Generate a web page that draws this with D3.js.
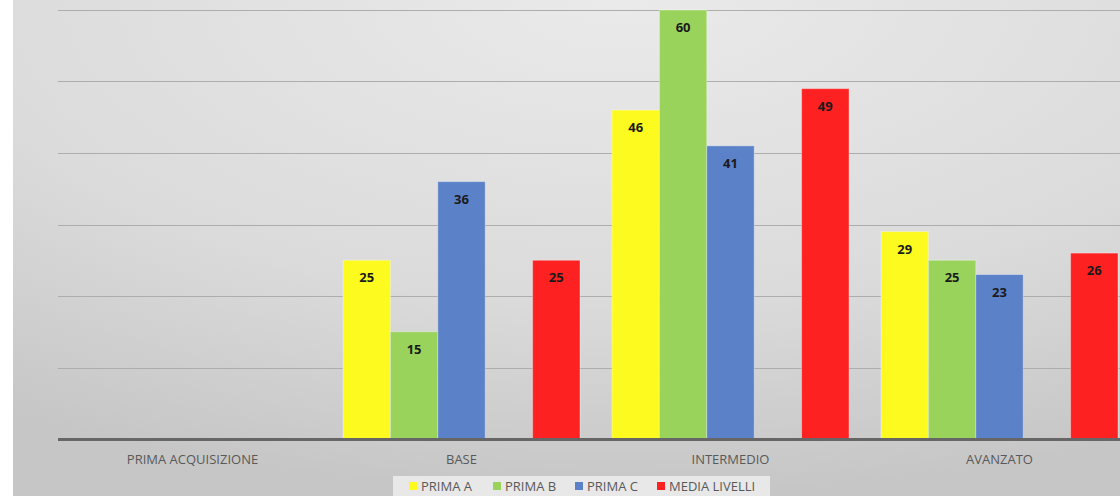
<!DOCTYPE html>
<html>
<head>
<meta charset="utf-8">
<script src="https://cdn.jsdelivr.net/npm/d3@7"></script>
<style>
  html, body { margin: 0; padding: 0; background: #fff; }
  svg { display: block; font-family: "Open Sans", "Liberation Sans", sans-serif; }
</style>
</head>
<body>
<div id="chart"></div>
<script>
// data
const categories = ['PRIMA ACQUISIZIONE', 'BASE', 'INTERMEDIO', 'AVANZATO'];
const series = ['PRIMA A', 'PRIMA B', 'PRIMA C', 'MEDIA LIVELLI'];
const primaA = [null, 25, 46, 29];
const primaB = [null, 15, 60, 25];
const primaC = [null, 36, 41, 23];
const mediaLivelli = [null, 25, 49, 26];
const yTicks = [10, 20, 30, 40, 50, 60];
const colors = ['#fdfa1f', '#9ad35c', '#5b81c9', '#fd2121'];

const values = [primaA, primaB, primaC, mediaLivelli];
// slot order inside a group; one empty slot sits before the red bar
const slots = ['PRIMA A', 'PRIMA B', 'PRIMA C', '_gap', 'MEDIA LIVELLI'];

const width = 1120, height = 496;
const margin = {top: 10, bottom: 57, left: 58, right: -14};

const svg = d3.select('#chart').append('svg')
    .attr('width', width)
    .attr('height', height);

// background
const defs = svg.append('defs');
const grad = defs.append('radialGradient')
    .attr('id', 'bg')
    .attr('cx', '55%').attr('cy', '0%').attr('r', '100%')
    .attr('gradientUnits', 'objectBoundingBox');
grad.append('stop').attr('offset', '0%').attr('stop-color', '#eaeaea');
grad.append('stop').attr('offset', '60%').attr('stop-color', '#dbdbdb');
grad.append('stop').attr('offset', '100%').attr('stop-color', '#c6c6c6');

svg.append('rect')
    .attr('x', 13).attr('y', 0)
    .attr('width', width - 13).attr('height', height)
    .attr('fill', 'url(#bg)');

// scales
const x0 = d3.scaleBand()
    .domain(categories)
    .range([margin.left, width - margin.right])
    .padding(0);
const x1 = d3.scaleBand()
    .domain(slots)
    .range([16, x0.bandwidth() - 16])
    .padding(0);
const y = d3.scaleLinear()
    .domain([0, 60])
    .range([height - margin.bottom, margin.top]);

// grid
svg.append('g')
    .selectAll('line')
    .data(yTicks)
    .join('line')
    .attr('x1', margin.left)
    .attr('x2', width)
    .attr('y1', d => Math.round(y(d)) + 0.5)
    .attr('y2', d => Math.round(y(d)) + 0.5)
    .attr('stroke', '#adadad')
    .attr('stroke-width', 1);

// bars
const rows = [];
categories.forEach((c, i) => {
    series.forEach((s, j) => {
        if (values[j][i] != null) rows.push({cat: c, key: s, value: values[j][i], color: colors[j]});
    });
});

const bars = svg.append('g');
bars.selectAll('rect')
    .data(rows)
    .join('rect')
    .attr('x', d => x0(d.cat) + x1(d.key))
    .attr('y', d => y(d.value))
    .attr('width', x1.bandwidth())
    .attr('height', d => y(0) - y(d.value))
    .attr('fill', d => d.color)
    .attr('stroke', 'rgba(255,255,255,0.35)')
    .attr('stroke-width', 1);

bars.selectAll('text')
    .data(rows)
    .join('text')
    .attr('x', d => x0(d.cat) + x1(d.key) + x1.bandwidth() / 2)
    .attr('y', d => y(d.value) + 22)
    .attr('text-anchor', 'middle')
    .style('font-size', '13px')
    .style('font-weight', 'bold')
    .attr('fill', '#1a1a1a')
    .text(d => d.value);

// x axis line
svg.append('line')
    .attr('x1', margin.left).attr('x2', width)
    .attr('y1', y(0) + 0.5).attr('y2', y(0) + 0.5)
    .attr('stroke', '#666')
    .attr('stroke-width', 3);

// category labels
svg.append('g')
    .selectAll('text')
    .data(categories)
    .join('text')
    .attr('x', d => x0(d) + x0.bandwidth() / 2)
    .attr('y', 464)
    .attr('text-anchor', 'middle')
    .style('font-size', '13px')
    .attr('fill', '#595959')
    .text(d => d);

// legend
const legend = svg.append('g');
legend.append('rect')
    .attr('x', 393).attr('y', 476)
    .attr('width', 377).attr('height', 22)
    .attr('fill', '#e8e8e8');
const legendX = [409, 493, 575, 657];
const items = legend.selectAll('g')
    .data(series)
    .join('g')
    .attr('transform', (d, i) => `translate(${legendX[i]}, 482)`);
items.append('rect')
    .attr('width', 8).attr('height', 8)
    .attr('fill', (d, i) => colors[i]);
items.append('text')
    .attr('x', 12).attr('y', 9)
    .style('font-size', '13px')
    .attr('fill', '#595959')
    .text(d => d);
</script>
</body>
</html>
